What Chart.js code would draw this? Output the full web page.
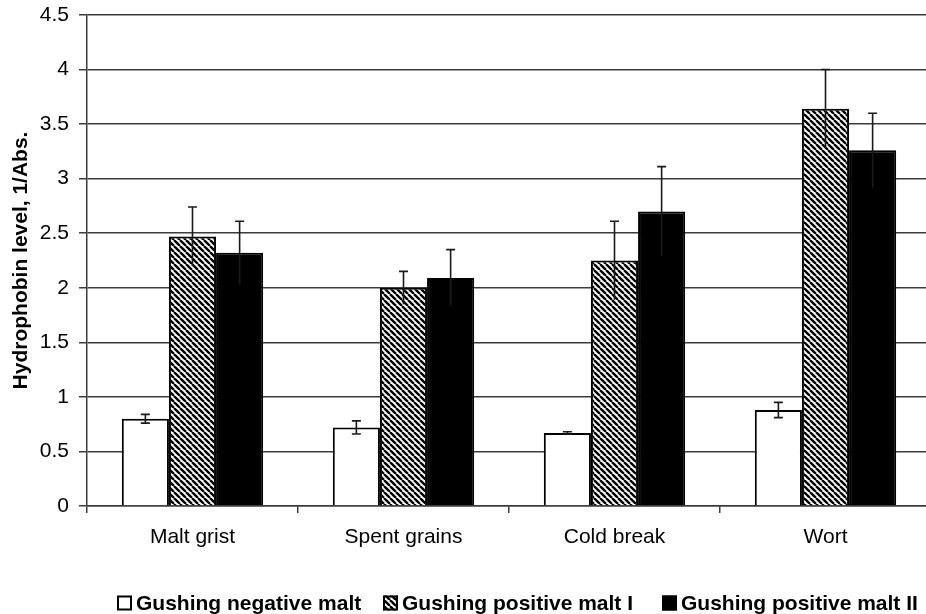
<!DOCTYPE html>
<html>
<head>
<meta charset="utf-8">
<script src="https://cdn.jsdelivr.net/npm/chart.js@4.4.1/dist/chart.umd.min.js"></script>
<style>
  html, body { margin: 0; padding: 0; background: #fff; overflow: hidden; }
  #wrap { width: 926px; height: 614px; overflow: hidden; position: relative; }
  canvas { display: block; }
</style>
</head>
<body>
<div id="wrap"><canvas id="chart" width="935" height="614"></canvas></div>
<script>
// Sample sources
const categories = ['Malt grist', 'Spent grains', 'Cold break', 'Wort'];

// Mean hydrophobin level (1/Abs.) per malt type
const negativeMalt   = [0.80, 0.72, 0.67, 0.88];
const positiveMaltI  = [2.47, 2.00, 2.25, 3.64];
const positiveMaltII = [2.32, 2.09, 2.70, 3.26];

// Standard deviations
const negativeMaltSd   = [0.04, 0.06, 0.01, 0.07];
const positiveMaltISd  = [0.27, 0.15, 0.36, 0.36];
const positiveMaltIISd = [0.29, 0.26, 0.41, 0.34];

// Series names
const seriesNames = ['Gushing negative malt', 'Gushing positive malt I', 'Gushing positive malt II'];

// Value axis range
const yMin = 0, yMax = 4.5, yStep = 0.5;

const FONT = '"Liberation Sans", Arial, Helvetica, sans-serif';
const INK = '#000';
const GRID = '#3c3c3c';

// Diagonal hatch fill ("\" direction)
function makeHatch() {
  const s = 6;
  const c = document.createElement('canvas');
  c.width = s; c.height = s;
  const g = c.getContext('2d');
  g.fillStyle = '#fff';
  g.fillRect(0, 0, s, s);
  g.strokeStyle = '#000';
  g.lineWidth = 2.4;
  g.beginPath();
  for (const o of [-s, 0, s]) {
    g.moveTo(o, 0);
    g.lineTo(o + s, s);
  }
  g.stroke();
  return g.createPattern(c, 'repeat');
}
const hatch = makeHatch();

// Error bars drawn on top of each bar, using the value scale
const errorBars = {
  id: 'errorBars',
  afterDatasetsDraw(chart) {
    const ctx = chart.ctx;
    const y = chart.scales.y;
    ctx.save();
    ctx.strokeStyle = '#1a1a1a';
    ctx.lineWidth = 1.6;
    chart.data.datasets.forEach((ds, i) => {
      const meta = chart.getDatasetMeta(i);
      meta.data.forEach((bar, j) => {
        const v = ds.data[j], e = ds.errors[j];
        const top = y.getPixelForValue(v + e);
        const bot = y.getPixelForValue(v - e);
        const x = bar.x, cap = 4.5;
        ctx.beginPath();
        ctx.moveTo(x, bot);
        ctx.lineTo(x, top);
        ctx.moveTo(x - cap, top);
        ctx.lineTo(x + cap, top);
        if (ds.lowerCap) {
          ctx.moveTo(x - cap, bot);
          ctx.lineTo(x + cap, bot);
        }
        ctx.stroke();
      });
    });
    ctx.restore();
  }
};

// Legend row under the axis labels
const legendRow = {
  id: 'legendRow',
  afterDraw(chart, args, opts) {
    const ctx = chart.ctx;
    ctx.save();
    ctx.font = 'bold ' + opts.fontSize + 'px ' + FONT;
    ctx.textBaseline = 'middle';
    ctx.textAlign = 'left';
    const cy = opts.y, b = opts.box;
    chart.data.datasets.forEach((ds, i) => {
      const x = opts.itemX[i];
      ctx.fillStyle = ds.backgroundColor;
      ctx.fillRect(x, cy - b / 2, b, b);
      ctx.strokeStyle = '#000';
      ctx.lineWidth = 2;
      ctx.strokeRect(x + 1, cy - b / 2 + 1, b - 2, b - 2);
      ctx.fillStyle = INK;
      ctx.fillText(ds.label, x + b + opts.gap, cy + 1);
    });
    ctx.restore();
  }
};

const common = {
  borderColor: '#000',
  borderWidth: 2,
  borderSkipped: 'start'
};

new Chart(document.getElementById('chart'), {
  type: 'bar',
  data: {
    labels: categories,
    datasets: [
      Object.assign({ label: seriesNames[0], data: negativeMalt, errors: negativeMaltSd, lowerCap: true, backgroundColor: '#fff' }, common),
      Object.assign({ label: seriesNames[1], data: positiveMaltI, errors: positiveMaltISd, lowerCap: false, backgroundColor: hatch }, common),
      Object.assign({ label: seriesNames[2], data: positiveMaltII, errors: positiveMaltIISd, lowerCap: false, backgroundColor: '#000' }, common)
    ]
  },
  options: {
    responsive: false,
    animation: false,
    devicePixelRatio: 1,
    categoryPercentage: 0.67,
    barPercentage: 1.0,
    layout: { padding: { left: 0, right: 4, top: 15, bottom: 48 } },
    plugins: {
      legend: { display: false },
      tooltip: { enabled: false },
      legendRow: { itemX: [117, 383, 662], y: 603, box: 15, gap: 4, fontSize: 21 }
    },
    scales: {
      x: {
        offset: true,
        grid: { display: true, offset: true, drawOnChartArea: false, drawTicks: true, tickLength: 7, color: GRID, lineWidth: 1.5 },
        border: { display: true, color: GRID, width: 1.5 },
        ticks: { color: INK, font: { family: FONT, size: 21 }, padding: 12, maxRotation: 0 },
        afterFit(scale) { scale.height = 60; scale.paddingLeft = 0; scale.paddingRight = 0; }
      },
      y: {
        min: yMin,
        max: yMax,
        ticks: {
          stepSize: yStep,
          color: INK,
          font: { family: FONT, size: 21 },
          padding: 10,
          callback: v => String(Number(v))
        },
        grid: { color: GRID, lineWidth: 1.5, tickLength: 8, drawTicks: true },
        border: { display: true, color: GRID, width: 1.5 },
        title: {
          display: true,
          text: 'Hydrophobin level, 1/Abs.',
          color: INK,
          font: { family: FONT, size: 21, weight: 'bold' },
          padding: { top: 9, bottom: 0 }
        },
        afterFit(scale) { scale.width = 87; scale.paddingTop = 0; scale.paddingBottom = 0; }
      }
    }
  },
  plugins: [errorBars, legendRow]
});
</script>
</body>
</html>
